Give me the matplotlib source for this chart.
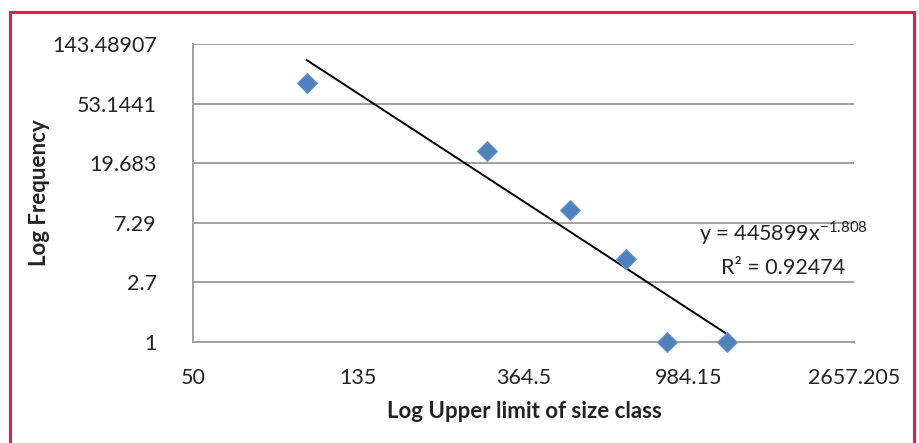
import numpy as np
import matplotlib
matplotlib.use("Agg")
import matplotlib.pyplot as plt
from matplotlib.patches import Rectangle

# data
size_upper = [99, 292, 481, 673, 861, 1240]
frequency = [75, 24, 9, 4, 1, 1]

x_ticks = [50, 135, 364.5, 984.15, 2657.205]
x_tick_labels = ["50", "135", "364.5", "984.15", "2657.205"]
y_ticks = [1, 2.7, 7.29, 19.683, 53.1441, 143.48907]
y_tick_labels = ["1", "2.7", "7.29", "19.683", "53.1441", "143.48907"]

# power trendline as printed on the chart
coef_a = 445899
coef_b = -1.808
r_squared = 0.92474

plt.rcParams['font.family'] = ['Lato', 'DejaVu Sans']
plt.rcParams['mathtext.fontset'] = 'custom'
plt.rcParams['mathtext.rm'] = 'Lato'

fig = plt.figure(figsize=(9.19, 4.43), dpi=100)
ax = fig.add_axes([193/919, 1 - 342/443, (854-193)/919, (342-44)/443])

ax.set_xscale('log', base=2.7)
ax.set_yscale('log', base=2.7)
ax.set_xlim(x_ticks[0], x_ticks[-1])
ax.set_ylim(y_ticks[0], y_ticks[-1])

ax.set_xticks(x_ticks)
ax.set_xticklabels(x_tick_labels)
ax.set_yticks(y_ticks)
ax.set_yticklabels(y_tick_labels)
ax.minorticks_off()
ax.tick_params(axis='both', length=0, labelsize=15.5, colors='#222222')
ax.tick_params(axis='x', pad=19)
ax.tick_params(axis='y', pad=26)

ax.grid(axis='y', color='#a0a0a0', linewidth=1.4)
for s in ['top', 'right']:
    ax.spines[s].set_visible(False)
ax.spines['left'].set_color('#a0a0a0')
ax.spines['left'].set_linewidth(1.4)
ax.spines['bottom'].set_color('#a0a0a0')
ax.spines['bottom'].set_linewidth(1.4)

# trendline
xs = np.exp(np.linspace(np.log(min(size_upper)), np.log(max(size_upper)), 50))
ax.plot(xs, coef_a * xs ** coef_b, color='black', linewidth=1.4, zorder=3)

ax.plot(size_upper, frequency, linestyle='none', marker='D', markersize=10,
        markerfacecolor='#4f81bd', markeredgecolor='#6b97cc', markeredgewidth=0.8,
        zorder=4, clip_on=False)

fig.text(783/919, 1 - 233/443, r'y = 445899x$^{\mathrm{%s}}$' % ('\u2212' + str(abs(coef_b))),
         fontsize=15.5, ha='center', va='center', color='#222222')
fig.text(783/919, 1 - 268/443, 'R\u00b2 = %s' % r_squared,
         fontsize=15.5, ha='center', va='center', color='#222222')

ax.set_xlabel('Log Upper limit of size class', fontsize=16, fontweight='bold',
              color='#222222', va='center')
ax.set_ylabel('Log Frequency', fontsize=16, fontweight='bold', color='#222222',
              va='center')
ax.xaxis.set_label_coords((524 - 193) / 661, (342 - 412) / 298)
ax.yaxis.set_label_coords((40 - 193) / 661, (342 - 193) / 298)

# red frame around the figure
fig.patches.append(Rectangle((10/919, -0.05), (914-10)/919, 1 - 12/443 + 0.05,
                             transform=fig.transFigure, fill=False,
                             edgecolor='#e8194b', linewidth=2.2))

fig.savefig('out.png', dpi=100)
